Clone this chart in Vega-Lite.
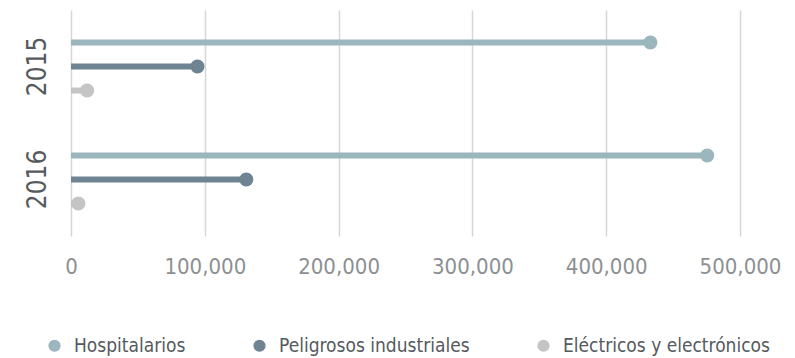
{
  "$schema": "https://vega.github.io/schema/vega-lite/v6.json",
  "autosize": "none",
  "width": 669,
  "height": 226,
  "padding": {"left": 71, "top": 10, "right": 55, "bottom": 122},
  "background": "white",
  "config": {
    "view": {"stroke": null},
    "font": "DejaVu Sans Condensed"
  },
  "data": {
    "values": [
      {"year": "2015", "tipo": "Hospitalarios", "valor": 433000},
      {"year": "2015", "tipo": "Peligrosos industriales", "valor": 94500},
      {"year": "2015", "tipo": "Eléctricos y electrónicos", "valor": 12000},
      {"year": "2016", "tipo": "Hospitalarios", "valor": 475500},
      {"year": "2016", "tipo": "Peligrosos industriales", "valor": 131000},
      {"year": "2016", "tipo": "Eléctricos y electrónicos", "valor": 5500}
    ]
  },
  "encoding": {
    "y": {
      "field": "year", "type": "nominal", "title": null,
      "scale": {"paddingInner": 0, "paddingOuter": 0},
      "axis": {"domain": false, "ticks": false, "labelAngle": -90, "labelAlign": "center", "labelBaseline": "bottom", "labelPadding": 21, "labelFontSize": 26, "labelColor": "#555a5e", "grid": false}
    },
    "yOffset": {
      "field": "tipo", "type": "nominal",
      "sort": ["Hospitalarios", "Peligrosos industriales", "Eléctricos y electrónicos"],
      "scale": {"paddingInner": 0, "paddingOuter": 0.85}
    },
    "color": {
      "field": "tipo", "type": "nominal",
      "sort": ["Hospitalarios", "Peligrosos industriales", "Eléctricos y electrónicos"],
      "scale": {"domain": ["Hospitalarios", "Peligrosos industriales", "Eléctricos y electrónicos"], "range": ["#9bb6bc", "#6e8492", "#c4c4c4"]},
      "legend": {"title": null, "orient": "none", "direction": "horizontal", "legendX": -26, "legendY": 326, "symbolType": "circle", "symbolSize": 150, "symbolOpacity": 1, "labelFontSize": 19, "labelColor": "#555a5e", "columnPadding": 64, "labelOffset": 10, "labelLimit": 0, "symbolStrokeWidth": 0}
    }
  },
  "layer": [
    {
      "mark": {"type": "rule", "strokeWidth": 6},
      "encoding": {
        "x": {
          "field": "valor", "type": "quantitative", "title": null,
          "scale": {"domain": [0, 500000], "nice": false},
          "axis": {"values": [0, 100000, 200000, 300000, 400000, 500000], "format": ",d", "domain": false, "ticks": false, "labelFontSize": 22, "labelColor": "#8c9092", "labelPadding": 20, "gridColor": "#d6d6d6", "gridWidth": 1.5, "labelFlush": false}
        },
        "x2": {"datum": 0}
      }
    },
    {
      "mark": {"type": "circle", "size": 200, "opacity": 1},
      "encoding": {
        "x": {"field": "valor", "type": "quantitative"}
      }
    }
  ]
}
